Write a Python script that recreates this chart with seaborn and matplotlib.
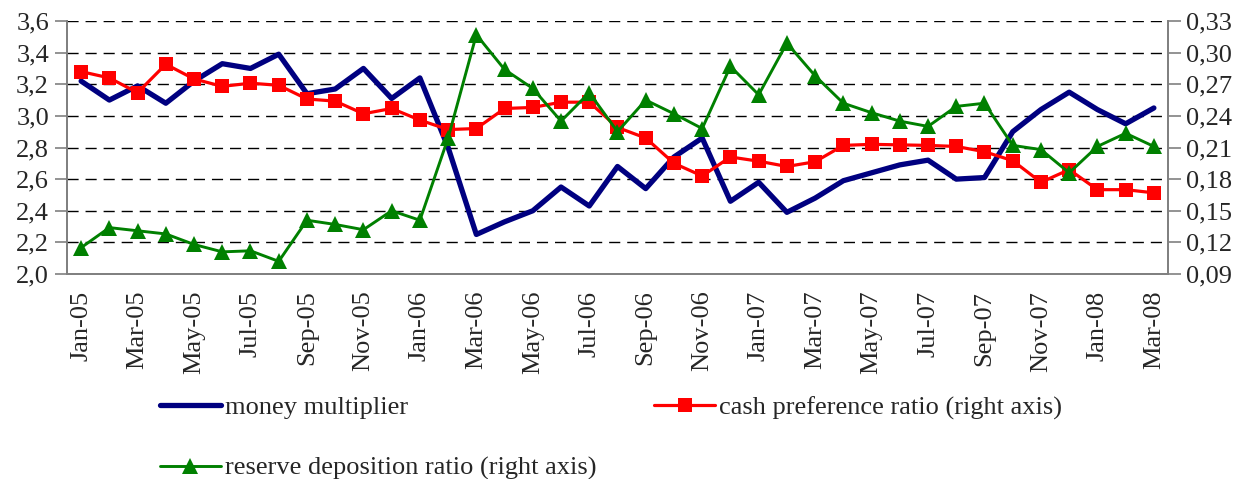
import numpy as np
import pandas as pd
import matplotlib
matplotlib.use("Agg")
import matplotlib.pyplot as plt
from matplotlib.lines import Line2D
from matplotlib.ticker import FuncFormatter
import seaborn as sns

sns.set_theme(style="white")
plt.rcParams['font.family'] = ['Liberation Serif', 'DejaVu Serif']

months = pd.date_range("2005-01-01", periods=39, freq="MS").strftime("%b-%y").tolist()

money_multiplier = [3.22, 3.10, 3.19, 3.08, 3.22, 3.33, 3.30, 3.39, 3.14, 3.17,
                    3.30, 3.11, 3.24, 2.80, 2.25, 2.33, 2.40, 2.55, 2.43, 2.68,
                    2.54, 2.74, 2.86, 2.46, 2.58, 2.39, 2.48, 2.59, 2.64, 2.69,
                    2.72, 2.60, 2.61, 2.90, 3.04, 3.15, 3.04, 2.95, 3.05]

cash_pref = [0.282, 0.276, 0.262, 0.289, 0.275, 0.268, 0.271, 0.269, 0.256, 0.254,
             0.242, 0.247, 0.236, 0.227, 0.228, 0.247, 0.248, 0.253, 0.253, 0.229,
             0.219, 0.195, 0.183, 0.201, 0.197, 0.192, 0.1965, 0.212, 0.213, 0.2125,
             0.212, 0.211, 0.206, 0.1975, 0.177, 0.189, 0.170, 0.170, 0.167]

reserve_dep = [0.115, 0.134, 0.131, 0.128, 0.118, 0.111, 0.112, 0.102, 0.141, 0.137,
               0.132, 0.150, 0.141, 0.219, 0.317, 0.284, 0.266, 0.235, 0.262, 0.225,
               0.255, 0.242, 0.228, 0.287, 0.260, 0.309, 0.278, 0.252, 0.243, 0.235,
               0.230, 0.249, 0.252, 0.212, 0.208, 0.186, 0.211, 0.2235, 0.211]

left_ticks = [2.0, 2.2, 2.4, 2.6, 2.8, 3.0, 3.2, 3.4, 3.6]
right_ticks = [0.09, 0.12, 0.15, 0.18, 0.21, 0.24, 0.27, 0.30, 0.33]

df = pd.DataFrame({
    "pos": np.arange(len(months)),
    "month": months,
    "money": money_multiplier,
    "cash": cash_pref,
    "reserve": reserve_dep,
})

BLUE = "#000080"
RED = "#FF0000"
GREEN = "#008000"
FS = 19

fig = plt.figure(figsize=(12.37, 4.79), dpi=100)
ax = fig.add_axes([67 / 1237, 1 - 274 / 479, (1168 - 67) / 1237, 253 / 479])
ax2 = ax.twinx()

sns.lineplot(data=df, x="pos", y="money", ax=ax, color=BLUE, lw=3.8, legend=False)
sns.lineplot(data=df, x="pos", y="cash", ax=ax2, color=RED, lw=2.3, marker="s",
             markersize=10.5, markeredgewidth=0, legend=False)
sns.lineplot(data=df, x="pos", y="reserve", ax=ax2, color=GREEN, lw=2.1, marker="^",
             markersize=12, markeredgewidth=0, legend=False)

ax.set_xlim(-0.5, len(months) - 0.5)
ax.set_ylim(2.0, 3.6)
ax2.set_ylim(0.09, 0.33)
ax.set_yticks(left_ticks)
ax2.set_yticks(right_ticks)
ax.yaxis.set_major_formatter(FuncFormatter(lambda v, p: f"{v:.1f}".replace(".", ",")))
ax2.yaxis.set_major_formatter(FuncFormatter(lambda v, p: f"{v:.2f}".replace(".", ",")))

# ticks between categories every two months, labels on every other month
ax.set_xticks(np.arange(-0.5, len(months) - 0.5, 2))
ax.set_xticklabels([])
ax.set_xticks(df["pos"][::2], minor=True)
ax.set_xticklabels(df["month"][::2], minor=True, rotation=90, fontsize=FS)
ax.tick_params(axis="x", which="minor", length=0, pad=12)
ax.tick_params(axis="x", which="major", length=9, width=1.2, color="#808080", direction="out")
ax.tick_params(axis="y", length=9, width=1.2, color="#808080", direction="out", labelsize=FS, pad=4)
ax2.tick_params(axis="y", length=9, width=1.2, color="#808080", direction="out", labelsize=FS, pad=4)
ax.set_xlabel("")
ax.set_ylabel("")
ax2.set_ylabel("")

ax.grid(False)
ax2.grid(False)
for v in left_ticks[1:]:
    ax.axhline(v, color="black", lw=1.0, ls=(0, (8, 5)), zorder=0)

for a in (ax, ax2):
    a.spines["top"].set_visible(False)
    for s in ("left", "bottom", "right"):
        a.spines[s].set_color("#808080")
        a.spines[s].set_linewidth(1.3)

handles = [
    Line2D([], [], color=BLUE, lw=3.8),
    Line2D([], [], color=GREEN, lw=2.1, marker="^", markersize=12, markeredgewidth=0),
    Line2D([], [], color=RED, lw=2.3, marker="s", markersize=10.5, markeredgewidth=0),
]
labels = ["money multiplier", "reserve deposition ratio (right axis)",
          "cash preference ratio (right axis)"]
fig.legend(handles, labels, loc="upper left", bbox_to_anchor=(160 / 1237, 1 - 396 / 479),
           ncol=2, frameon=False, fontsize=FS, handlelength=2.3, handletextpad=0.15,
           columnspacing=2.2, labelspacing=1.4, borderpad=0, borderaxespad=0)

fig.savefig("out.png", dpi=100)
